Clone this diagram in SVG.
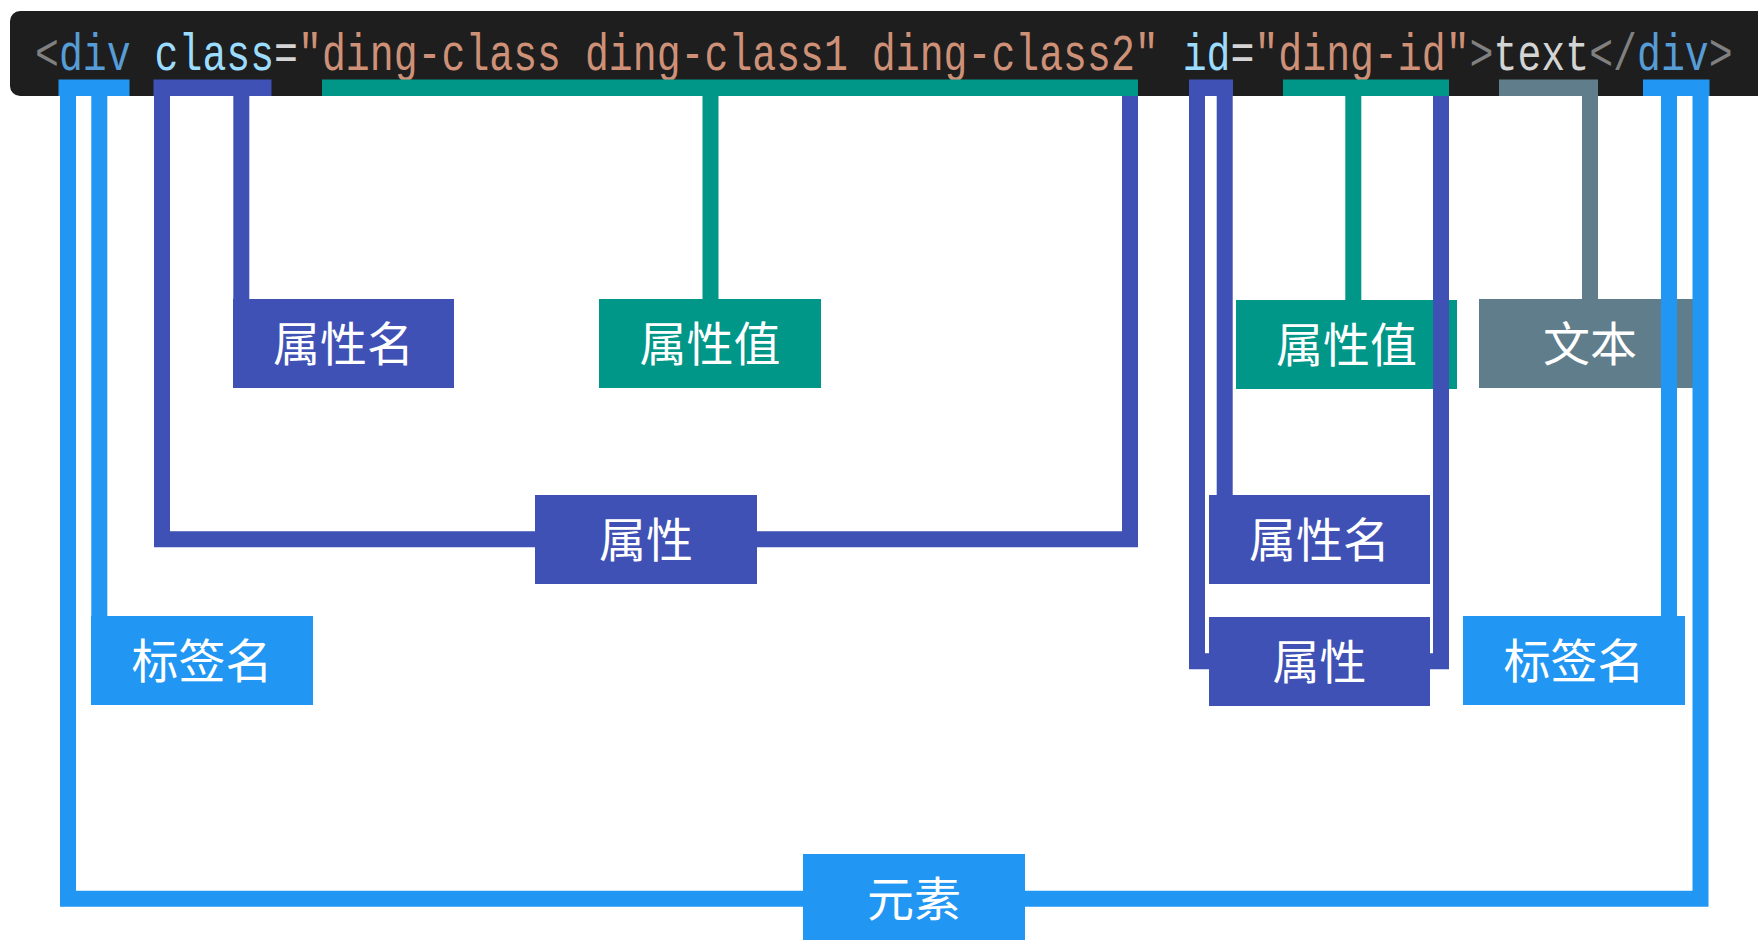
<svg xmlns="http://www.w3.org/2000/svg" width="1758" height="940" viewBox="0 0 1758 940">
<style>
.code{font-family:"Liberation Mono","DejaVu Sans Mono",monospace;font-size:51px;white-space:pre}
.p{fill:#808080}.t{fill:#569cd6}.a{fill:#9cdcfe}.e{fill:#d4d4d4}.s{fill:#ce9178}
.lbl{font-family:"Noto Sans CJK SC","Noto Sans",sans-serif;font-size:47px;fill:#ffffff;text-anchor:middle}
.ln{fill:none;stroke-width:16;stroke-linecap:butt;stroke-linejoin:miter}
.blue{stroke:#2196f3}.ind{stroke:#3f51b5}.teal{stroke:#009688}.grey{stroke:#607d8b}
.bBlue{fill:#2196f3}.bInd{fill:#3f51b5}.bTeal{fill:#009688}.bGrey{fill:#607d8b}
</style>
<rect width="1758" height="940" fill="#ffffff"/>
<g id="code">
<rect x="10" y="11" width="1770" height="85" rx="10" ry="10" fill="#1e1e1e"/>
<text class="code" transform="translate(35,70) scale(0.7815,1)"><tspan class="p">&lt;</tspan><tspan class="t">div</tspan><tspan class="e"> </tspan><tspan class="a">class</tspan><tspan class="e">=</tspan><tspan class="s">"ding-class ding-class1 ding-class2"</tspan><tspan class="e"> </tspan><tspan class="a">id</tspan><tspan class="e">=</tspan><tspan class="s">"ding-id"</tspan><tspan class="p">&gt;</tspan><tspan class="e">text</tspan><tspan class="p">&lt;/</tspan><tspan class="t">div</tspan><tspan class="p">&gt;</tspan></text>
</g>
<g id="n-attrname-l"><rect class="bInd" x="233" y="299" width="221" height="89"/><text class="lbl" x="343.5" y="361">属性名</text></g>
<g id="n-attrval-l"><rect class="bTeal" x="599" y="299" width="222" height="89"/><text class="lbl" x="710" y="361">属性值</text></g>
<g id="n-attr-l"><rect class="bInd" x="535" y="495" width="222" height="89"/><text class="lbl" x="646" y="557">属性</text></g>
<g id="n-tag-l"><rect class="bBlue" x="91" y="616" width="222" height="89"/><text class="lbl" x="202" y="678">标签名</text></g>
<g id="n-attrval-r"><rect class="bTeal" x="1236" y="300" width="221" height="89"/><text class="lbl" x="1346.5" y="362">属性值</text></g>
<g id="n-text"><rect class="bGrey" x="1479" y="299" width="222" height="89"/><text class="lbl" x="1590" y="361">文本</text></g>
<g id="n-attrname-r"><rect class="bInd" x="1209" y="495" width="221" height="89"/><text class="lbl" x="1319.5" y="557">属性名</text></g>
<g id="n-attr-r"><rect class="bInd" x="1209" y="617" width="221" height="89"/><text class="lbl" x="1319.5" y="679">属性</text></g>
<g id="n-tag-r"><rect class="bBlue" x="1463" y="616" width="222" height="89"/><text class="lbl" x="1574" y="678">标签名</text></g>
<g id="n-element"><rect class="bBlue" x="803" y="854" width="222" height="89"/><text class="lbl" x="914" y="916">元素</text></g>
<g id="connectors">
<rect class="bBlue" x="58.5" y="79.5" width="71" height="16.5"/>
<rect class="bInd" x="153.5" y="79.5" width="118" height="16.5"/>
<rect class="bTeal" x="322" y="79.5" width="816" height="16.5"/>
<rect class="bInd" x="1189" y="79.5" width="44" height="16.5"/>
<rect class="bTeal" x="1283" y="79.5" width="166" height="16.5"/>
<rect class="bGrey" x="1499" y="79.5" width="99" height="16.5"/>
<rect class="bBlue" x="1643" y="79.5" width="66.5" height="16.5"/>
<path class="ln blue" d="M68,96 V898.7 H803"/>
<path class="ln blue" d="M1025,898.7 H1700.5 V96"/>
<path class="ln blue" d="M99.3,96 V616"/>
<path class="ln ind" d="M241.3,96 V299"/>
<path class="ln ind" d="M162,96 V539.3 H535"/>
<path class="ln ind" d="M757,539.3 H1130 V96"/>
<path class="ln teal" d="M710.5,96 V299"/>
<path class="ln ind" d="M1224.7,96 V495"/>
<path class="ln ind" d="M1197,96 V661.3 H1209"/>
<path class="ln ind" d="M1430,661.3 H1441 V96"/>
<path class="ln teal" d="M1353.3,96 V300"/>
<path class="ln grey" d="M1590,96 V299"/>
<path class="ln blue" d="M1669,96 V616"/>
</g>
</svg>
